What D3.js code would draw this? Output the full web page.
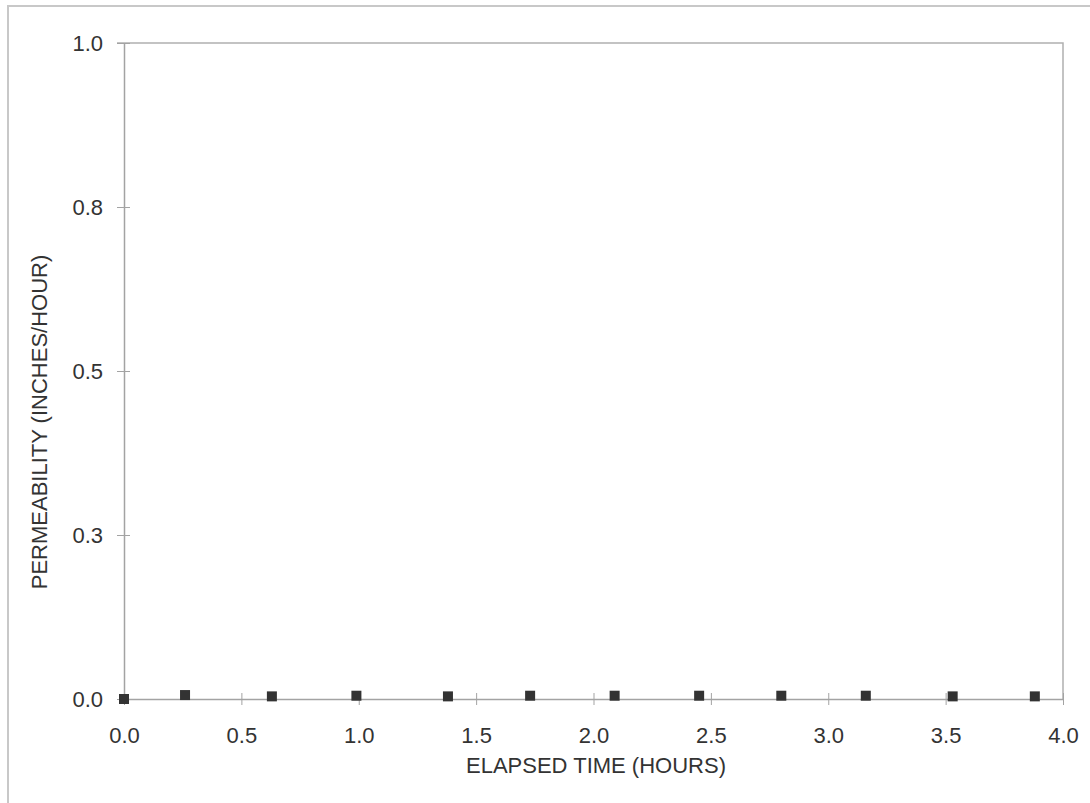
<!DOCTYPE html>
<html>
<head>
<meta charset="utf-8">
<script src="https://cdn.jsdelivr.net/npm/d3@7"></script>
<style>
  body { margin: 0; background: #fff; }
  text { font-family: "Liberation Sans", Arial, sans-serif; fill: #333; }
</style>
</head>
<body>
<div id="chart"></div>
<script>
const width = 1090, height = 803;
const margin = {top: 43, right: 27, bottom: 104, left: 124};

// elapsed time (hours) and permeability (inches/hour)
const elapsed = [0, 0.26, 0.63, 0.99, 1.38, 1.73, 2.09, 2.45, 2.80, 3.16, 3.53, 3.88];
const permeability = [0, 0.006, 0.004, 0.005, 0.004, 0.005, 0.005, 0.005, 0.005, 0.005, 0.004, 0.004];

const xTicks = [0, 0.5, 1, 1.5, 2, 2.5, 3, 3.5, 4];
const xTickLabels = ['0.0', '0.5', '1.0', '1.5', '2.0', '2.5', '3.0', '3.5', '4.0'];
const yTicks = [0, 0.25, 0.5, 0.75, 1];
const yTickLabels = ['0.0', '0.3', '0.5', '0.8', '1.0'];

const axisColor = '#a3a3a3';

const svg = d3.select('#chart').append('svg')
  .attr('width', width)
  .attr('height', height);

// outer frame of the scanned page
svg.append('rect')
  .attr('x', 8).attr('y', 6)
  .attr('width', width).attr('height', height)
  .attr('fill', 'none')
  .attr('stroke', '#c8c8c8')
  .attr('stroke-width', 2);

const x = d3.scaleLinear().domain([0, 4]).range([margin.left, width - margin.right]);
const y = d3.scaleLinear().domain([0, 1]).range([height - margin.bottom, margin.top]);

// top and right border of plot area
svg.append('path')
  .attr('d', `M${x(0) - 7},${y(1)}H${x(4)}V${y(0)}`)
  .attr('fill', 'none')
  .attr('stroke', '#b0b0b0')
  .attr('stroke-width', 1.5);

// x axis
const xAxis = svg.append('g')
  .attr('transform', `translate(0,${y(0)})`)
  .call(d3.axisBottom(x).tickValues(xTicks)
    .tickFormat((d, i) => xTickLabels[i])
    .tickSize(6).tickSizeOuter(0).tickPadding(22));
xAxis.select('.domain').attr('stroke', axisColor).attr('stroke-width', 1.5);
xAxis.selectAll('.tick line').attr('stroke', axisColor).attr('y1', -6);
xAxis.selectAll('.tick text').style('font-size', '22px').attr('fill', '#333');

// y axis
const yAxis = svg.append('g')
  .attr('transform', `translate(${x(0)},0)`)
  .call(d3.axisLeft(y).tickValues(yTicks)
    .tickFormat((d, i) => yTickLabels[i])
    .tickSize(7).tickSizeOuter(0).tickPadding(14));
yAxis.select('.domain').attr('stroke', axisColor).attr('stroke-width', 1.5);
yAxis.selectAll('.tick line').attr('stroke', axisColor).attr('x1', 6);
yAxis.selectAll('.tick text').style('font-size', '22px').attr('fill', '#333');

// data markers
svg.append('g').selectAll('rect')
  .data(elapsed)
  .join('rect')
  .attr('x', (d) => x(d) - 5)
  .attr('y', (d, i) => y(permeability[i]) - 5)
  .attr('width', 10)
  .attr('height', 10)
  .attr('fill', '#333');

// axis titles
svg.append('text')
  .attr('x', 596).attr('y', 773)
  .attr('text-anchor', 'middle')
  .style('font-size', '22px')
  .text('ELAPSED TIME (HOURS)');

svg.append('text')
  .attr('transform', 'translate(47,422) rotate(-90)')
  .attr('text-anchor', 'middle')
  .style('font-size', '22px')
  .text('PERMEABILITY (INCHES/HOUR)');
</script>
</body>
</html>
